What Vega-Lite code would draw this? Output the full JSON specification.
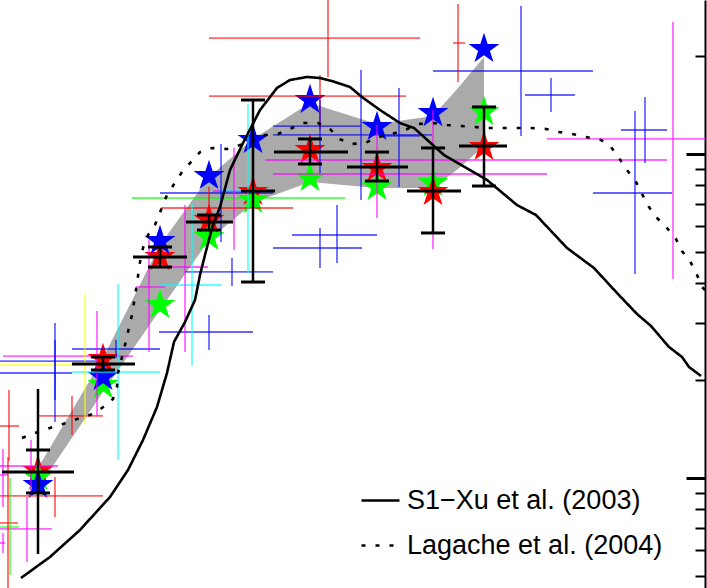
{
  "$schema": "https://vega.github.io/schema/vega-lite/v6.json",
  "width": 707,
  "height": 588,
  "padding": 0,
  "autosize": {"type": "fit", "contains": "padding"},
  "background": "white",
  "config": {"view": {"stroke": null}},
  "datasets": {
    "band": [
      {"x": 38, "hi": 1.074, "lo": 0.9314},
      {"x": 103, "hi": 2.346, "lo": 1.843},
      {"x": 160, "hi": 5.239, "lo": 3.3},
      {"x": 209, "hi": 8.492, "lo": 5.427},
      {"x": 253, "hi": 11.13, "lo": 7.06},
      {"x": 310, "hi": 14.37, "lo": 8.195},
      {"x": 377, "hi": 12.38, "lo": 7.854},
      {"x": 433, "hi": 13.1, "lo": 7.854},
      {"x": 458, "hi": 15.99, "lo": 8.989},
      {"x": 484, "hi": 19.93, "lo": 10.59}
    ],
    "stars": [
      {"x": 38, "y": 1.051, "c": "red"}, {"x": 38, "y": 1.007, "c": "green"}, {"x": 38, "y": 0.9515, "c": "blue"},
      {"x": 103, "y": 2.329, "c": "red"}, {"x": 103, "y": 1.936, "c": "green"}, {"x": 103, "y": 2.05, "c": "blue"},
      {"x": 160, "y": 4.809, "c": "red"}, {"x": 160, "y": 3.42, "c": "green"}, {"x": 160, "y": 5.389, "c": "blue"},
      {"x": 209, "y": 6.256, "c": "red"}, {"x": 209, "y": 5.544, "c": "green"}, {"x": 209, "y": 8.553, "c": "blue"},
      {"x": 253, "y": 7.634, "c": "red"}, {"x": 253, "y": 7.211, "c": "green"}, {"x": 253, "y": 11.05, "c": "blue"},
      {"x": 310, "y": 10.29, "c": "red"}, {"x": 310, "y": 8.432, "c": "green"}, {"x": 310, "y": 14.68, "c": "blue"},
      {"x": 377, "y": 9.053, "c": "red"}, {"x": 377, "y": 7.909, "c": "green"}, {"x": 377, "y": 12.12, "c": "blue"},
      {"x": 433, "y": 8.137, "c": "green"}, {"x": 433, "y": 7.634, "c": "red"}, {"x": 433, "y": 13.38, "c": "blue"},
      {"x": 484, "y": 10.51, "c": "red"}, {"x": 484, "y": 13.48, "c": "green"}, {"x": 484, "y": 21.09, "c": "blue"}
    ],
    "bars": [
      {"x": 38, "y": 1.044, "xlo": 2, "xhi": 74, "ylo": 0.899, "yhi": 1.22, "vlo": 0.5826, "vhi": 1.883},
      {"x": 103, "y": 2.249, "xlo": 72, "xhi": 135, "ylo": 2.154, "yhi": 2.363, "vlo": 2.154, "vhi": 2.363},
      {"x": 160, "y": 4.809, "xlo": 133, "xhi": 187, "ylo": 4.479, "yhi": 5.164, "vlo": 4.479, "vhi": 5.164},
      {"x": 209, "y": 6.167, "xlo": 186, "xhi": 233, "ylo": 5.825, "yhi": 6.482, "vlo": 5.825, "vhi": 6.482},
      {"x": 253, "y": 7.688, "xlo": 241, "xhi": 275, "ylo": 4.026, "yhi": 14.68, "vlo": 4.026, "vhi": 14.68},
      {"x": 310, "y": 10.14, "xlo": 274, "xhi": 348, "ylo": 9.314, "yhi": 11.13, "vlo": 9.314, "vhi": 11.13},
      {"x": 377, "y": 9.119, "xlo": 347, "xhi": 408, "ylo": 8.254, "yhi": 10.14, "vlo": 8.254, "vhi": 10.14},
      {"x": 433, "y": 7.688, "xlo": 407, "xhi": 461, "ylo": 5.705, "yhi": 10.44, "vlo": 5.705, "vhi": 10.44},
      {"x": 484, "y": 10.59, "xlo": 459, "xhi": 507, "ylo": 7.965, "yhi": 13.97, "vlo": 7.965, "vhi": 13.97}
    ],
    "crosses": [
      {"c": "red", "x": 328, "y": 22.8, "xlo": 209, "xhi": 420, "ylo": 17.29, "yhi": 31},
      {"c": "red", "x": 320, "y": 15.1, "xlo": 209, "xhi": 406, "ylo": 11.86, "yhi": 17.53},
      {"c": "red", "x": 458, "y": 22.01, "xlo": 453, "xhi": 465, "ylo": 16.68, "yhi": 29.04},
      {"c": "red", "x": 209, "y": 6.813, "xlo": 161, "xhi": 293, "ylo": 5.745, "yhi": 7.909},
      {"c": "red", "x": 72, "y": 1.554, "xlo": 37, "xhi": 103, "ylo": 1.358, "yhi": 1.791},
      {"c": "red", "x": 9, "y": 1.447, "xlo": 0, "xhi": 19, "ylo": 1.128, "yhi": 1.869},
      {"c": "red", "x": 8, "y": 0.7265, "xlo": 0, "xhi": 18, "ylo": 0.43, "yhi": 1.161},
      {"c": "red", "x": 55, "y": 0.88, "xlo": 0, "xhi": 103, "ylo": 0.758, "yhi": 1.007},
      {"c": "green", "x": 253, "y": 7.314, "xlo": 132, "xhi": 345, "ylo": 5.705, "yhi": 9.583},
      {"c": "green", "x": 10, "y": 0.7059, "xlo": 0, "xhi": 19, "ylo": 0.5018, "yhi": 1.0},
      {"c": "blue", "x": 55, "y": 2.296, "xlo": 0, "xhi": 97, "ylo": 1.741, "yhi": 3.008},
      {"c": "blue", "x": 55, "y": 2.109, "xlo": 0, "xhi": 72, "ylo": 1.489, "yhi": 2.667},
      {"c": "blue", "x": 116, "y": 2.501, "xlo": 72, "xhi": 160, "ylo": 2.346, "yhi": 2.667},
      {"c": "blue", "x": 209, "y": 2.822, "xlo": 159, "xhi": 253, "ylo": 2.484, "yhi": 3.185},
      {"c": "blue", "x": 232, "y": 4.324, "xlo": 185, "xhi": 273, "ylo": 3.914, "yhi": 4.775},
      {"c": "blue", "x": 221, "y": 7.579, "xlo": 160, "xhi": 273, "ylo": 5.35, "yhi": 10.74},
      {"c": "blue", "x": 320, "y": 12.2, "xlo": 273, "xhi": 361, "ylo": 8.739, "yhi": 14.68},
      {"c": "blue", "x": 361, "y": 11.45, "xlo": 273, "xhi": 432, "ylo": 7.211, "yhi": 18.17},
      {"c": "blue", "x": 399, "y": 11.37, "xlo": 380, "xhi": 420, "ylo": 7.909, "yhi": 15.99},
      {"c": "blue", "x": 337, "y": 5.623, "xlo": 292, "xhi": 377, "ylo": 4.609, "yhi": 6.958},
      {"c": "blue", "x": 320, "y": 5.128, "xlo": 273, "xhi": 362, "ylo": 4.447, "yhi": 5.909},
      {"c": "blue", "x": 521, "y": 18.04, "xlo": 433, "xhi": 593, "ylo": 11.37, "yhi": 28.63},
      {"c": "blue", "x": 551, "y": 15.21, "xlo": 525, "xhi": 575, "ylo": 13.48, "yhi": 17.16},
      {"c": "blue", "x": 645, "y": 11.86, "xlo": 621, "xhi": 667, "ylo": 9.381, "yhi": 14.99},
      {"c": "blue", "x": 635, "y": 7.579, "xlo": 593, "xhi": 672, "ylo": 4.263, "yhi": 13.58},
      {"c": "magenta", "x": 377, "y": 9.583, "xlo": 265, "xhi": 667, "ylo": 6.346, "yhi": 12.29},
      {"c": "magenta", "x": 433, "y": 8.676, "xlo": 273, "xhi": 547, "ylo": 5.091, "yhi": 13.67},
      {"c": "magenta", "x": 673, "y": 11.13, "xlo": 547, "xhi": 707, "ylo": 4.113, "yhi": 25.55},
      {"c": "magenta", "x": 234, "y": 7.688, "xlo": 213, "xhi": 273, "ylo": 5.055, "yhi": 10.44},
      {"c": "magenta", "x": 185, "y": 4.479, "xlo": 172, "xhi": 208, "ylo": 2.448, "yhi": 6.958},
      {"c": "magenta", "x": 149, "y": 3.886, "xlo": 136, "xhi": 165, "ylo": 2.448, "yhi": 5.427},
      {"c": "magenta", "x": 97, "y": 2.379, "xlo": 3, "xhi": 133, "ylo": 1.554, "yhi": 3.276},
      {"c": "magenta", "x": 31, "y": 1.089, "xlo": 0, "xhi": 58, "ylo": 0.88, "yhi": 1.31},
      {"c": "magenta", "x": 27, "y": 0.6963, "xlo": 0, "xhi": 52, "ylo": 0.5506, "yhi": 0.8737},
      {"c": "magenta", "x": 3, "y": 0.63, "xlo": 0, "xhi": 5, "ylo": 0.5868, "yhi": 0.6766},
      {"c": "magenta", "x": 3, "y": 1.022, "xlo": 0, "xhi": 8, "ylo": 0.8139, "yhi": 1.229},
      {"c": "cyan", "x": 118, "y": 2.124, "xlo": 72, "xhi": 160, "ylo": 1.137, "yhi": 3.97},
      {"c": "cyan", "x": 192, "y": 3.942, "xlo": 160, "xhi": 222, "ylo": 2.216, "yhi": 7.06},
      {"c": "cyan", "x": 248, "y": 7.743, "xlo": 220, "xhi": 275, "ylo": 4.293, "yhi": 14.27},
      {"c": "yellow", "x": 85, "y": 2.233, "xlo": 0, "xhi": 92, "ylo": 1.468, "yhi": 3.698}
    ],
    "curves": [
      {"m": "S1−Xu et al. (2003)", "x": 21, "y": 0.4913}, {"m": "S1−Xu et al. (2003)", "x": 50, "y": 0.5704},
      {"m": "S1−Xu et al. (2003)", "x": 80, "y": 0.6911}, {"m": "S1−Xu et al. (2003)", "x": 110, "y": 0.8737},
      {"m": "S1−Xu et al. (2003)", "x": 128, "y": 1.0585}, {"m": "S1−Xu et al. (2003)", "x": 143, "y": 1.3097},
      {"m": "S1−Xu et al. (2003)", "x": 157, "y": 1.6563}, {"m": "S1−Xu et al. (2003)", "x": 167, "y": 2.1093},
      {"m": "S1−Xu et al. (2003)", "x": 174, "y": 2.63}, {"m": "S1−Xu et al. (2003)", "x": 185, "y": 3.03},
      {"m": "S1−Xu et al. (2003)", "x": 195, "y": 3.543}, {"m": "S1−Xu et al. (2003)", "x": 200, "y": 4.232},
      {"m": "S1−Xu et al. (2003)", "x": 205, "y": 4.879}, {"m": "S1−Xu et al. (2003)", "x": 212, "y": 5.909},
      {"m": "S1−Xu et al. (2003)", "x": 220, "y": 6.86}, {"m": "S1−Xu et al. (2003)", "x": 230, "y": 8.925},
      {"m": "S1−Xu et al. (2003)", "x": 243, "y": 10.81}, {"m": "S1−Xu et al. (2003)", "x": 260, "y": 13.67},
      {"m": "S1−Xu et al. (2003)", "x": 277, "y": 15.99}, {"m": "S1−Xu et al. (2003)", "x": 290, "y": 16.92},
      {"m": "S1−Xu et al. (2003)", "x": 307, "y": 17.29}, {"m": "S1−Xu et al. (2003)", "x": 320, "y": 17.16},
      {"m": "S1−Xu et al. (2003)", "x": 332, "y": 16.8}, {"m": "S1−Xu et al. (2003)", "x": 350, "y": 16.1},
      {"m": "S1−Xu et al. (2003)", "x": 362, "y": 14.99}, {"m": "S1−Xu et al. (2003)", "x": 380, "y": 13.67},
      {"m": "S1−Xu et al. (2003)", "x": 400, "y": 12.46}, {"m": "S1−Xu et al. (2003)", "x": 414, "y": 12.03},
      {"m": "S1−Xu et al. (2003)", "x": 444, "y": 9.929}, {"m": "S1−Xu et al. (2003)", "x": 487, "y": 8.314},
      {"m": "S1−Xu et al. (2003)", "x": 517, "y": 6.958}, {"m": "S1−Xu et al. (2003)", "x": 536, "y": 6.482},
      {"m": "S1−Xu et al. (2003)", "x": 567, "y": 5.128}, {"m": "S1−Xu et al. (2003)", "x": 594, "y": 4.447},
      {"m": "S1−Xu et al. (2003)", "x": 617, "y": 3.724}, {"m": "S1−Xu et al. (2003)", "x": 637, "y": 3.208},
      {"m": "S1−Xu et al. (2003)", "x": 651, "y": 2.945}, {"m": "S1−Xu et al. (2003)", "x": 669, "y": 2.537},
      {"m": "S1−Xu et al. (2003)", "x": 682, "y": 2.363}, {"m": "S1−Xu et al. (2003)", "x": 689, "y": 2.201},
      {"m": "S1−Xu et al. (2003)", "x": 701, "y": 2.065},
      {"m": "Lagache et al. (2004)", "x": 22, "y": 1.3285}, {"m": "Lagache et al. (2004)", "x": 35, "y": 1.3765},
      {"m": "Lagache et al. (2004)", "x": 50, "y": 1.4263}, {"m": "Lagache et al. (2004)", "x": 63, "y": 1.4678},
      {"m": "Lagache et al. (2004)", "x": 77, "y": 1.5208}, {"m": "Lagache et al. (2004)", "x": 90, "y": 1.5646},
      {"m": "Lagache et al. (2004)", "x": 102, "y": 1.6444}, {"m": "Lagache et al. (2004)", "x": 113, "y": 1.7531},
      {"m": "Lagache et al. (2004)", "x": 117, "y": 1.9095}, {"m": "Lagache et al. (2004)", "x": 118, "y": 2.1093},
      {"m": "Lagache et al. (2004)", "x": 125, "y": 2.573}, {"m": "Lagache et al. (2004)", "x": 128, "y": 2.822},
      {"m": "Lagache et al. (2004)", "x": 132, "y": 3.185}, {"m": "Lagache et al. (2004)", "x": 136, "y": 3.804},
      {"m": "Lagache et al. (2004)", "x": 140, "y": 4.642}, {"m": "Lagache et al. (2004)", "x": 143, "y": 5.128},
      {"m": "Lagache et al. (2004)", "x": 148, "y": 5.623}, {"m": "Lagache et al. (2004)", "x": 155, "y": 6.038},
      {"m": "Lagache et al. (2004)", "x": 167, "y": 7.473}, {"m": "Lagache et al. (2004)", "x": 182, "y": 8.799},
      {"m": "Lagache et al. (2004)", "x": 200, "y": 10.14}, {"m": "Lagache et al. (2004)", "x": 212, "y": 10.44},
      {"m": "Lagache et al. (2004)", "x": 227, "y": 10.36}, {"m": "Lagache et al. (2004)", "x": 253, "y": 10.97},
      {"m": "Lagache et al. (2004)", "x": 265, "y": 11.45}, {"m": "Lagache et al. (2004)", "x": 278, "y": 11.53},
      {"m": "Lagache et al. (2004)", "x": 292, "y": 12.03}, {"m": "Lagache et al. (2004)", "x": 303, "y": 12.46},
      {"m": "Lagache et al. (2004)", "x": 318, "y": 12.46}, {"m": "Lagache et al. (2004)", "x": 330, "y": 11.95},
      {"m": "Lagache et al. (2004)", "x": 339, "y": 11.13}, {"m": "Lagache et al. (2004)", "x": 352, "y": 10.74},
      {"m": "Lagache et al. (2004)", "x": 365, "y": 10.81}, {"m": "Lagache et al. (2004)", "x": 378, "y": 11.29},
      {"m": "Lagache et al. (2004)", "x": 392, "y": 11.53}, {"m": "Lagache et al. (2004)", "x": 405, "y": 11.86},
      {"m": "Lagache et al. (2004)", "x": 418, "y": 12.38}, {"m": "Lagache et al. (2004)", "x": 434, "y": 12.46},
      {"m": "Lagache et al. (2004)", "x": 447, "y": 12.29}, {"m": "Lagache et al. (2004)", "x": 461, "y": 12.2},
      {"m": "Lagache et al. (2004)", "x": 487, "y": 12.03}, {"m": "Lagache et al. (2004)", "x": 517, "y": 12.03},
      {"m": "Lagache et al. (2004)", "x": 531, "y": 12.03}, {"m": "Lagache et al. (2004)", "x": 546, "y": 11.95},
      {"m": "Lagache et al. (2004)", "x": 559, "y": 11.69}, {"m": "Lagache et al. (2004)", "x": 572, "y": 11.53},
      {"m": "Lagache et al. (2004)", "x": 586, "y": 11.29}, {"m": "Lagache et al. (2004)", "x": 601, "y": 11.05},
      {"m": "Lagache et al. (2004)", "x": 611, "y": 10.51}, {"m": "Lagache et al. (2004)", "x": 619, "y": 9.72},
      {"m": "Lagache et al. (2004)", "x": 627, "y": 8.925}, {"m": "Lagache et al. (2004)", "x": 636, "y": 8.195},
      {"m": "Lagache et al. (2004)", "x": 642, "y": 7.525}, {"m": "Lagache et al. (2004)", "x": 649, "y": 6.86},
      {"m": "Lagache et al. (2004)", "x": 657, "y": 6.346}, {"m": "Lagache et al. (2004)", "x": 667, "y": 5.909},
      {"m": "Lagache et al. (2004)", "x": 676, "y": 5.467}, {"m": "Lagache et al. (2004)", "x": 682, "y": 5.019},
      {"m": "Lagache et al. (2004)", "x": 691, "y": 4.609}, {"m": "Lagache et al. (2004)", "x": 697, "y": 4.232},
      {"m": "Lagache et al. (2004)", "x": 702, "y": 3.886}, {"m": "Lagache et al. (2004)", "x": 707, "y": 3.751}
    ]
  },
  "layer": [
    {
      "data": {"name": "band"},
      "mark": {"type": "area", "color": "#aaaaaa", "opacity": 1, "clip": true},
      "encoding": {
        "x": {"field": "x", "type": "quantitative", "scale": {"domain": [0, 707], "nice": false, "zero": false}, "axis": null},
        "y": {
          "field": "hi", "type": "quantitative",
          "scale": {"type": "log", "domain": [0.4575, 29.88], "nice": false},
          "axis": {
            "orient": "left", "offset": -705, "title": null, "labels": false, "grid": false,
            "values": [0.5, 0.6, 0.7, 0.8, 0.9, 1, 2, 3, 4, 5, 6, 7, 8, 9, 10, 20],
            "domain": true, "domainColor": "black", "domainWidth": 2,
            "tickColor": "black",
            "tickSize": {"condition": {"test": "datum.value == 1 || datum.value == 10", "value": 19}, "value": 10},
            "tickWidth": {"condition": {"test": "datum.value == 1 || datum.value == 10", "value": 3}, "value": 2}
          }
        },
        "y2": {"field": "lo"}
      }
    },
    {
      "data": {"name": "stars"},
      "mark": {"type": "point", "shape": "M0,-1L0.2245,-0.309L0.951,-0.309L0.363,0.118L0.588,0.809L0,0.382L-0.588,0.809L-0.363,0.118L-0.951,-0.309L-0.2245,-0.309Z", "filled": true, "opacity": 1, "size": 1050, "clip": true},
      "encoding": {
        "x": {"field": "x", "type": "quantitative", "axis": null},
        "y": {"field": "y", "type": "quantitative"},
        "color": {"field": "c", "type": "nominal", "legend": null,
          "scale": {"domain": ["red", "green", "blue", "magenta", "cyan", "yellow"], "range": ["#ff0000", "#00ff00", "#0000ff", "#ff00ff", "#00ffff", "#ffff00"]}}
      }
    },
    {
      "data": {"name": "crosses"},
      "mark": {"type": "rule", "strokeWidth": 1.8, "opacity": 0.6, "clip": true},
      "encoding": {
        "x": {"field": "xlo", "type": "quantitative", "axis": null},
        "x2": {"field": "xhi"},
        "y": {"field": "y", "type": "quantitative"},
        "color": {"field": "c", "type": "nominal", "legend": null}
      }
    },
    {
      "data": {"name": "crosses"},
      "mark": {"type": "rule", "strokeWidth": 1.8, "opacity": 0.6, "clip": true},
      "encoding": {
        "x": {"field": "x", "type": "quantitative", "axis": null},
        "y": {"field": "ylo", "type": "quantitative"},
        "y2": {"field": "yhi"},
        "color": {"field": "c", "type": "nominal", "legend": null}
      }
    },
    {
      "data": {"name": "bars"},
      "mark": {"type": "rule", "color": "black", "strokeWidth": 2.5, "clip": true},
      "encoding": {
        "x": {"field": "x", "type": "quantitative", "axis": null},
        "y": {"field": "vlo", "type": "quantitative"},
        "y2": {"field": "vhi"}
      }
    },
    {
      "data": {"name": "bars"},
      "mark": {"type": "rule", "color": "black", "strokeWidth": 3, "clip": true},
      "encoding": {
        "x": {"field": "xlo", "type": "quantitative", "axis": null},
        "x2": {"field": "xhi"},
        "y": {"field": "y", "type": "quantitative"}
      }
    },
    {
      "data": {"name": "bars"},
      "mark": {"type": "tick", "color": "black", "orient": "horizontal", "size": 24, "thickness": 3, "opacity": 1, "clip": true},
      "encoding": {
        "x": {"field": "x", "type": "quantitative", "axis": null},
        "y": {"field": "ylo", "type": "quantitative"}
      }
    },
    {
      "data": {"name": "bars"},
      "mark": {"type": "tick", "color": "black", "orient": "horizontal", "size": 24, "thickness": 3, "opacity": 1, "clip": true},
      "encoding": {
        "x": {"field": "x", "type": "quantitative", "axis": null},
        "y": {"field": "yhi", "type": "quantitative"}
      }
    },
    {
      "data": {"name": "curves"},
      "mark": {"type": "line", "color": "black", "strokeWidth": 2.6, "clip": true},
      "encoding": {
        "x": {"field": "x", "type": "quantitative", "axis": null},
        "y": {"field": "y", "type": "quantitative"},
        "strokeDash": {
          "field": "m", "type": "nominal",
          "scale": {"domain": ["S1−Xu et al. (2003)", "Lagache et al. (2004)"], "range": [[1, 0], [4, 10]]},
          "legend": {
            "orient": "none", "legendX": 360, "legendY": 480, "title": null, "padding": 0,
            "symbolType": "stroke", "symbolSize": 1444, "symbolStrokeWidth": 2.5, "symbolStrokeColor": "black",
            "labelFont": "Liberation Sans", "labelFontSize": 27, "labelColor": "black", "labelOffset": 6, "rowPadding": 11,
            "labelLimit": 400
          }
        }
      }
    }
  ]
}
